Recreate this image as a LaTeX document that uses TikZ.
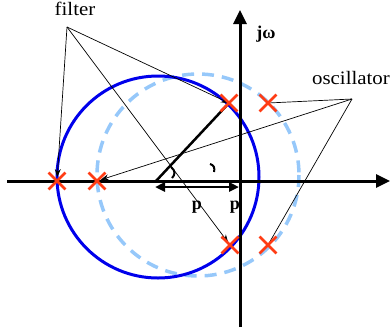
\documentclass[tikz,border=0pt]{standalone}
\usepackage{fontspec}
\setmainfont{Liberation Serif}
\usetikzlibrary{shapes.misc,arrows.meta,backgrounds}
\definecolor{solidblue}{RGB}{0,0,235}
\definecolor{lightblue}{RGB}{150,200,250}
\definecolor{xred}{RGB}{255,60,20}
\tikzset{
  px/.style={x=1pt,y=-1pt},
  pole/.style={cross out,draw=xred,line width=2.8pt,minimum size=14pt,inner sep=0pt},
  axisline/.style={line width=3pt,-{Triangle[length=14pt,width=13pt]}},
  pointer/.style={line width=0.7pt,-{Stealth[length=8pt,width=6pt]}},
  plainline/.style={line width=0.7pt},
  lbl/.style={font=\fontsize{19}{19}\selectfont,xscale=1.1,anchor=base,inner sep=0pt},
  blbl/.style={font=\fontsize{18}{18}\selectfont\bfseries,anchor=base,inner sep=0pt},
}
\begin{document}
\begin{tikzpicture}[px]
\useasboundingbox (0,0) rectangle (391,333);
% poles (drawn on top)
\node[pole] (f1) at (57,181) {};
\node[pole] (o1) at (97,181) {};
\node[pole] (f2) at (229,103) {};
\node[pole] (o2) at (268,103) {};
\node[pole] (f3) at (230,245) {};
\node[pole] (o3) at (268,245) {};
% labels
\node[lbl] (flab) at (75,15) {filter};
\node[lbl] (olab) at (351,84) {oscillator};
\node[blbl] (jw) at (266,38) {j\char"03C9};
\node[blbl] (p1) at (197,209) {p};
\node[blbl] (p2) at (235,209) {p};
\begin{pgfonlayer}{background}
% circles
\draw[lightblue,line width=3.5pt,dash pattern=on 12pt off 8pt] (198,175) circle[radius=101];
\draw[solidblue,line width=3pt] (158,177) circle[radius=101];
% axes
\coordinate (xs) at (7,181);
\coordinate (xe) at (390,181);
\coordinate (ys) at (240,327);
\coordinate (ye) at (240,10);
\draw[axisline] (xs) -- (xe);
\draw[axisline] (ys) -- (ye);
% hubs and connectors
\coordinate (fh) at (67,27);
\coordinate (oh) at (352,99);
\draw[pointer,shorten >=4pt] (fh) -- (f1.center);
\draw[pointer] (fh) -- (f2.center);
\draw[pointer,shorten >=3pt] (fh) -- (f3.center);
\draw[pointer,shorten >=4pt] (oh) -- (o1.center);
\draw[plainline] (oh) -- (o2.center);
\draw[plainline] (oh) -- (o3.center);
% radius and double arrow
\coordinate (c0) at (156,181);
\draw[line width=2.5pt] (c0) -- (f2.center);
\coordinate (da) at (155,187);
\coordinate (db) at (239,187);
\draw[line width=2.5pt,{Triangle[length=10pt,width=9pt]}-{Triangle[length=10pt,width=9pt]}] (da) -- (db);
% small marks
\draw[line width=2pt] (171,167) .. controls (176,171) and (175,175) .. (172,178);
\draw[line width=2pt] (210,164) .. controls (214,165) and (215,168) .. (214,172);
\end{pgfonlayer}
\end{tikzpicture}
\end{document}
